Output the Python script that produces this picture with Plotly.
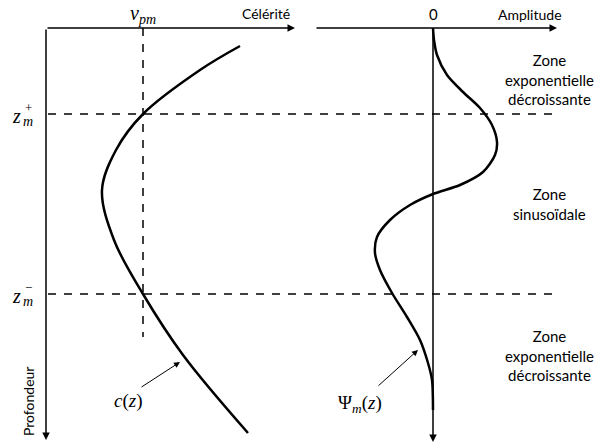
import plotly.graph_objects as go

# schematic drawn in a page-like frame: x to the right, depth downwards
celerity_depth = [46, 70, 114, 150, 190, 240, 294, 355, 433]
celerity_x = [240, 200, 143, 116, 102, 114, 143, 183, 248]

mode_depth = [28, 40, 55, 75, 92, 108, 125, 142, 155, 172, 185, 194, 205, 220, 237, 253, 270, 293, 317, 340, 363, 380, 410]
mode_x = [433, 434, 437, 447, 463, 480, 492, 497, 495, 483, 460, 433, 410, 390, 377, 375, 380, 392, 407, 420, 428, 432, 433]

z_plus, z_minus = 114, 294
v_pm = 143
origin_left, origin_right = 46, 433
surface = 28

zone_labels = ["Zone<br>exponentielle<br>décroissante", "Zone<br>sinusoïdale", "Zone<br>exponentielle<br>décroissante"]
zone_depths = [79, 204, 355]

TXT = "Lato"
MATH = "Liberation Serif"

fig = go.Figure()

# dashed guide lines
for zz in [z_plus, z_minus]:
    fig.add_trace(go.Scatter(x=[48, 557], y=[zz, zz], mode="lines",
                             line=dict(color="black", width=1.5, dash="8px,8px"), hoverinfo="skip"))
fig.add_trace(go.Scatter(x=[v_pm, v_pm], y=[surface, 337], mode="lines",
                         line=dict(color="black", width=1.5, dash="8px,8px"), hoverinfo="skip"))

# the two curves
fig.add_trace(go.Scatter(x=celerity_x, y=celerity_depth, mode="lines",
                         line=dict(color="black", width=2.5, shape="spline", smoothing=1), hoverinfo="skip"))
fig.add_trace(go.Scatter(x=mode_x, y=mode_depth, mode="lines",
                         line=dict(color="black", width=2.5, shape="spline", smoothing=0.8), hoverinfo="skip"))


def arrow(x0, y0, x1, y1, width=1.5, head=2, size=1.0):
    fig.add_annotation(x=x1, y=y1, ax=x0, ay=y0, xref="x", yref="y", axref="x", ayref="y",
                       showarrow=True, arrowhead=head, arrowsize=size, arrowwidth=width,
                       arrowcolor="black", text="")


# axes
arrow(origin_left, surface, 295, surface)
arrow(origin_left, surface, origin_left, 440)
arrow(315, surface, 557, surface)
arrow(origin_right, surface, origin_right, 442)

# pointers to curves
arrow(140, 388, 180, 362, width=1, size=1.2)
arrow(377, 387, 418, 350, width=1, size=1.2)


def label(x, y, text, family=TXT, size=14, angle=0):
    fig.add_annotation(x=x, y=y, xref="x", yref="y", text=text, showarrow=False,
                       font=dict(family=family, size=size, color="black"), textangle=angle)


label(266, 13, "Célérité", size=14)
label(530, 14, "Amplitude", size=14)
label(433, 14, "0", size=15)
label(v_pm, 14, "<i>v</i><sub><i>pm</i></sub>", family=MATH, size=20)
label(28, 402, "Profondeur", size=14, angle=-90)

for zz, sign in [(z_plus, "+"), (z_minus, "−")]:
    label(16, zz + 2, "<i>z</i>", family=MATH, size=20)
    label(28, zz - 7, sign, family=MATH, size=13)
    label(28, zz + 7, "<i>m</i>", family=MATH, size=14)

label(128, 401, "<i>c</i>(<i>z</i>)", family=MATH, size=19)
label(360, 404, "Ψ<sub><i>m</i></sub>(<i>z</i>)", family=MATH, size=19)

for zd, txt in zip(zone_depths, zone_labels):
    label(549, zd, txt, size=15)

fig.update_xaxes(range=[0, 598], visible=False)
fig.update_yaxes(range=[445, 0], visible=False)
fig.update_layout(width=598, height=445, margin=dict(l=0, r=0, t=0, b=0),
                  plot_bgcolor="white", paper_bgcolor="white", showlegend=False)

# drop the default body margin so the figure sits at the page corner
fig.write_html("out.html", config={"displayModeBar": False},
               post_script="document.body.style.margin='0';")
